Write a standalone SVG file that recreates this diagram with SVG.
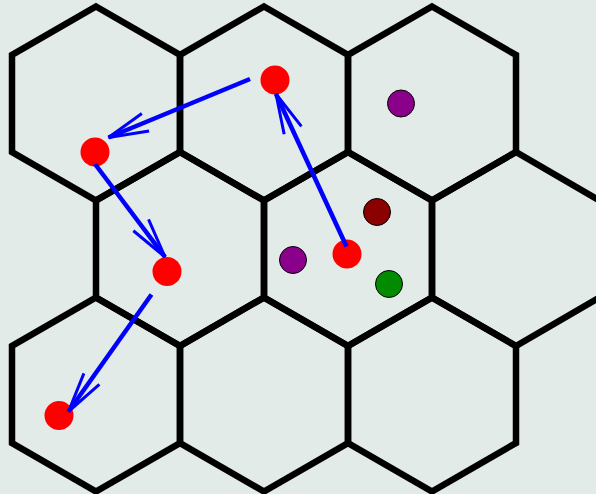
<svg xmlns="http://www.w3.org/2000/svg" width="596" height="494" viewBox="0 0 596 494">
  <style>
    .hex { fill: none; stroke: #000; stroke-width: 6.5; stroke-linejoin: miter; }
    .dot { stroke: #000; stroke-width: 1; }
    .red { fill: #ff0000; stroke: none; }
    .arrow { stroke: #0000ff; stroke-width: 4.5; fill: none; marker-end: url(#vhead); }
  </style>
  <defs>
    <marker id="vhead" viewBox="-45 -15 50 30" markerWidth="50" markerHeight="30" refX="0" refY="0" orient="auto" markerUnits="userSpaceOnUse">
      <path d="M -40,-9.5 L 0,0 L -40,9.5" fill="none" stroke="#0000ff" stroke-width="3"/>
    </marker>
  </defs>
  <rect width="596" height="494" fill="#e3ebe8"/>
  <g id="grid">
    <g id="hex-r1-c1"><polygon class="hex" points="96,6.5 180,55 180,152 96,200.5 12,152 12,55"/></g>
    <g id="hex-r1-c2"><polygon class="hex" points="264,6.5 348,55 348,152 264,200.5 180,152 180,55"/></g>
    <g id="hex-r1-c3"><polygon class="hex" points="432,6.5 516,55 516,152 432,200.5 348,152 348,55"/></g>
    <g id="hex-r2-c1"><polygon class="hex" points="180,152 264,200.5 264,297.5 180,346 96,297.5 96,200.5"/></g>
    <g id="hex-r2-c2"><polygon class="hex" points="348,152 432,200.5 432,297.5 348,346 264,297.5 264,200.5"/></g>
    <g id="hex-r2-c3"><polygon class="hex" points="516,152 599.5,200.5 599.5,297.5 516,346 432,297.5 432,200.5"/></g>
    <g id="hex-r3-c1"><polygon class="hex" points="96,297.5 180,346 180,443 96,491.5 12,443 12,346"/></g>
    <g id="hex-r3-c2"><polygon class="hex" points="264,297.5 348,346 348,443 264,491.5 180,443 180,346"/></g>
    <g id="hex-r3-c3"><polygon class="hex" points="432,297.5 516,346 516,443 432,491.5 348,443 348,346"/></g>
  </g>
  <g id="dot-red-1"><circle class="red" cx="275" cy="80" r="14.5"/></g>
  <g id="dot-red-2"><circle class="red" cx="95" cy="152" r="14.5"/></g>
  <g id="dot-red-3"><circle class="red" cx="167" cy="271.5" r="14.5"/></g>
  <g id="dot-red-4"><circle class="red" cx="59" cy="415.5" r="14.5"/></g>
  <g id="dot-red-5"><circle class="red" cx="347" cy="254" r="14.5"/></g>
  <g id="dot-purple-1"><circle class="dot" cx="401" cy="103.5" r="13.5" fill="#8b008b"/></g>
  <g id="dot-purple-2"><circle class="dot" cx="293" cy="260" r="13.5" fill="#8b008b"/></g>
  <g id="dot-darkred"><circle class="dot" cx="377" cy="212" r="13.5" fill="#8b0000"/></g>
  <g id="dot-green"><circle class="dot" cx="389" cy="284" r="13.5" fill="#008b00"/></g>
  <g id="connectors">
    <line class="arrow" x1="250" y1="79" x2="108.5" y2="137.5"/>
    <line class="arrow" x1="95" y1="164" x2="165" y2="257"/>
    <line class="arrow" x1="151.5" y1="294.5" x2="68.5" y2="411.5"/>
    <line class="arrow" x1="346.5" y1="246.5" x2="276" y2="94"/>
  </g>
</svg>
